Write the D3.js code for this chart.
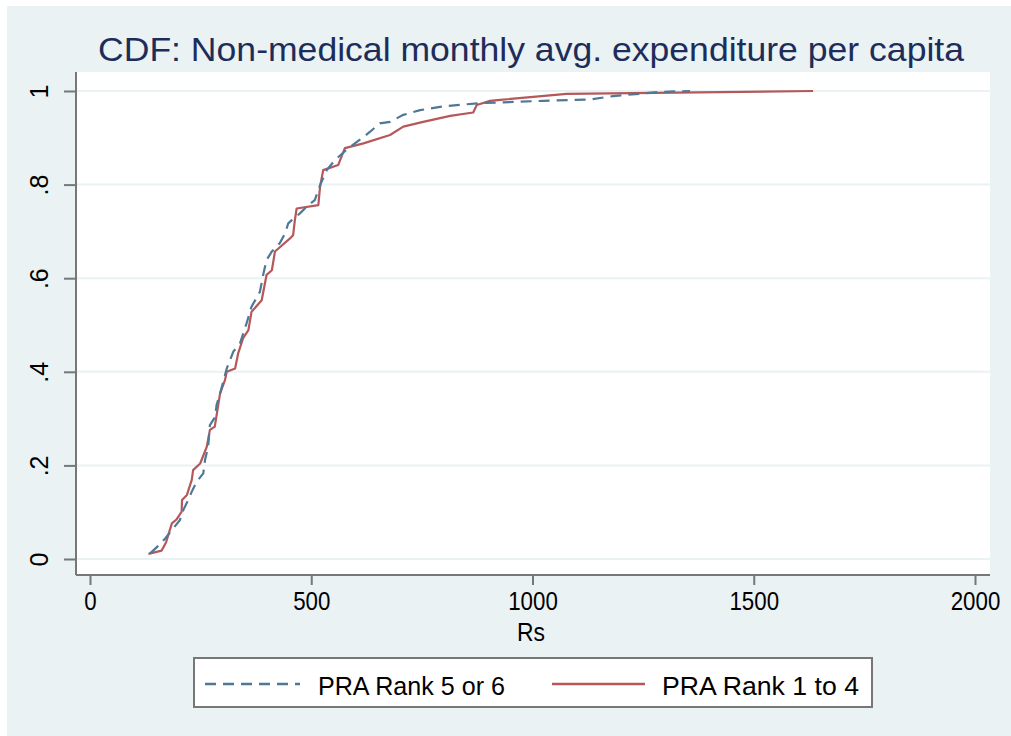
<!DOCTYPE html>
<html lang="en">
<head>
<meta charset="UTF-8" />
<title>CDF chart</title>
<style>
  * { margin: 0; padding: 0; }
  body { background: #fff; }
  text { font-family: "Liberation Sans", Arial, sans-serif; }
</style>
</head>
<body>
<script src="https://d3js.org/d3.v7.min.js"></script>
<script>
// rupees values and cdf share
const rank56X = [136, 154, 170, 185, 203, 211, 222, 230, 241, 256, 260, 267, 271, 283, 286, 294, 309, 324, 339, 354, 365, 384, 392, 399, 411, 429, 441, 448, 456, 475, 490, 508, 520, 535, 554, 584, 610, 633, 655, 678, 708, 746, 791, 829, 881, 1024, 1130, 1182, 1288, 1356];
const rank56Y = [0.012, 0.028, 0.044, 0.062, 0.083, 0.105, 0.126, 0.144, 0.165, 0.183, 0.212, 0.240, 0.286, 0.304, 0.329, 0.354, 0.407, 0.443, 0.461, 0.504, 0.539, 0.571, 0.610, 0.639, 0.657, 0.675, 0.696, 0.717, 0.724, 0.739, 0.753, 0.767, 0.799, 0.831, 0.853, 0.878, 0.896, 0.913, 0.931, 0.934, 0.949, 0.959, 0.966, 0.970, 0.974, 0.979, 0.982, 0.989, 0.998, 1.0];

const rank14X = [132, 162, 172, 185, 196, 207, 208, 219, 230, 233, 249, 264, 271, 282, 294, 305, 309, 328, 335, 346, 358, 365, 388, 399, 411, 418, 452, 459, 463, 467, 516, 520, 527, 561, 576, 618, 678, 708, 753, 814, 866, 874, 904, 927, 1077, 1634];
const rank14Y = [0.011, 0.018, 0.036, 0.076, 0.085, 0.101, 0.126, 0.137, 0.169, 0.190, 0.204, 0.240, 0.276, 0.283, 0.354, 0.382, 0.400, 0.407, 0.440, 0.472, 0.489, 0.528, 0.553, 0.607, 0.617, 0.657, 0.685, 0.692, 0.724, 0.749, 0.756, 0.796, 0.831, 0.842, 0.878, 0.888, 0.906, 0.924, 0.934, 0.947, 0.954, 0.970, 0.979, 0.981, 0.994, 1.0];

const xTicks = [0, 500, 1000, 1500, 2000];
const yTicks = [0, 0.2, 0.4, 0.6, 0.8, 1];
const legendLabels = ["PRA Rank 5 or 6", "PRA Rank 1 to 4"];

const width = 1011, height = 736;
const blue = "#4f7897", red = "#b5585a";

const svg = d3.select("body").append("svg")
  .attr("width", width).attr("height", height);

// outer background
svg.append("rect").attr("x", 7).attr("y", 6)
  .attr("width", width - 7).attr("height", height - 6)
  .attr("fill", "#eaf2f3");

// plot region
const plot = { left: 76, right: 990, top: 72, bottom: 575 };
svg.append("rect")
  .attr("x", plot.left).attr("y", plot.top)
  .attr("width", plot.right - plot.left).attr("height", plot.bottom - plot.top)
  .attr("fill", "#fff");

const x = d3.scaleLinear().domain([0, 2000]).range([90, 975]);
const y = d3.scaleLinear().domain([0, 1]).range([559, 91]);

// grid lines
svg.append("g").selectAll("line").data(yTicks).join("line")
  .attr("x1", plot.left).attr("x2", plot.right)
  .attr("y1", d => y(d)).attr("y2", d => y(d))
  .attr("stroke", "#eaf2f3").attr("stroke-width", 2);

// y axis
const yAxis = svg.append("g")
  .attr("transform", `translate(${plot.left},0)`)
  .call(d3.axisLeft(y).tickValues(yTicks).tickSize(12).tickPadding(0)
    .tickFormat(d => d === 0 ? "0" : d === 1 ? "1" : d3.format(".1f")(d).replace(/^0/, "")));
yAxis.select(".domain").remove();
yAxis.selectAll(".tick line").attr("stroke", "#777").attr("stroke-width", 2);
yAxis.selectAll(".tick text")
  .attr("font-size", 25).attr("fill", "#000")
  .attr("transform", "translate(-37,0) rotate(-90)")
  .attr("x", 0).attr("dy", "0.35em")
  .attr("text-anchor", "middle");
svg.append("line")
  .attr("x1", plot.left).attr("x2", plot.left)
  .attr("y1", plot.top).attr("y2", plot.bottom)
  .attr("stroke", "#777").attr("stroke-width", 2);

// x axis
const xAxis = svg.append("g")
  .attr("transform", `translate(0,${plot.bottom})`)
  .call(d3.axisBottom(x).tickValues(xTicks).tickSize(10).tickPadding(7)
    .tickFormat(d3.format("d")));
xAxis.select(".domain").remove();
xAxis.selectAll(".tick line").attr("stroke", "#777").attr("stroke-width", 2);
xAxis.selectAll(".tick text").attr("font-size", 25).attr("fill", "#000")
  .attr("textLength", d => String(d).length * 12.4)
  .attr("lengthAdjust", "spacingAndGlyphs");
svg.append("line")
  .attr("x1", plot.left).attr("x2", plot.right)
  .attr("y1", plot.bottom).attr("y2", plot.bottom)
  .attr("stroke", "#777").attr("stroke-width", 2);

svg.append("text")
  .attr("x", 531).attr("y", 641)
  .attr("text-anchor", "middle").attr("font-size", 25)
  .attr("textLength", 28).attr("lengthAdjust", "spacingAndGlyphs")
  .text("Rs");

// title
svg.append("text")
  .attr("x", 531).attr("y", 61)
  .attr("text-anchor", "middle").attr("font-size", 34)
  .attr("fill", "#1c2d5a")
  .attr("textLength", 866).attr("lengthAdjust", "spacingAndGlyphs")
  .text("CDF: Non-medical monthly avg. expenditure per capita");

// series
const line = d3.line().x(d => x(d[0])).y(d => y(d[1]));
const s56 = rank56X.map((v, i) => [v, rank56Y[i]]);
const s14 = rank14X.map((v, i) => [v, rank14Y[i]]);

svg.append("path").datum(s14)
  .attr("d", line).attr("fill", "none")
  .attr("stroke", red).attr("stroke-width", 2.2)
  .attr("stroke-linejoin", "round");
svg.append("path").datum(s56)
  .attr("d", line).attr("fill", "none")
  .attr("stroke", blue).attr("stroke-width", 2.2)
  .attr("stroke-dasharray", "11,7");

// legend
const legend = svg.append("g");
legend.append("rect")
  .attr("x", 194).attr("y", 658).attr("width", 678).attr("height", 49)
  .attr("fill", "#fff").attr("stroke", "#777").attr("stroke-width", 2);
legend.append("line")
  .attr("x1", 205).attr("x2", 300).attr("y1", 684).attr("y2", 684)
  .attr("stroke", blue).attr("stroke-width", 2.5).attr("stroke-dasharray", "11,7");
legend.append("line")
  .attr("x1", 552).attr("x2", 645).attr("y1", 684).attr("y2", 684)
  .attr("stroke", red).attr("stroke-width", 2.5);
legend.selectAll("text.lab").data(legendLabels).join("text")
  .attr("class", "lab")
  .attr("x", (d, i) => i === 0 ? 318 : 662)
  .attr("y", 695)
  .attr("font-size", 25)
  .attr("textLength", (d, i) => i === 0 ? 187 : 197)
  .attr("lengthAdjust", "spacingAndGlyphs")
  .text(d => d);
</script>
</body>
</html>
